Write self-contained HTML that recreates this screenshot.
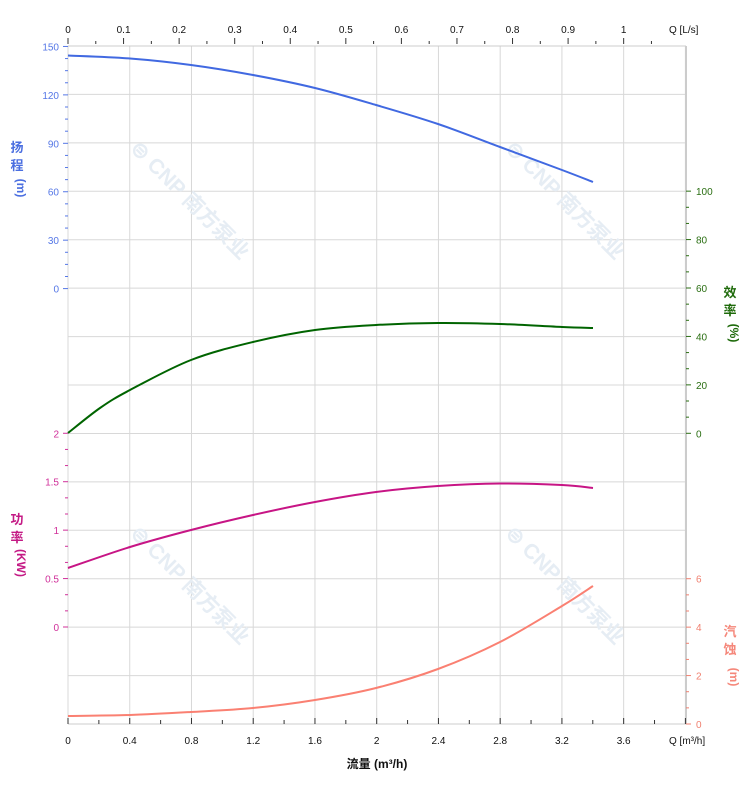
<!DOCTYPE html>
<html><head><meta charset="utf-8"><style>
html,body{margin:0;padding:0;background:#fff;width:752px;height:797px;overflow:hidden}
svg{display:block}
text{font-family:"Liberation Sans","Noto Sans CJK SC",sans-serif}
</style></head><body>
<svg id="s" width="752" height="797" xmlns="http://www.w3.org/2000/svg"></svg>
<script>
const s=document.getElementById('s');let h='';
const X=q=>68+q*154.35, L=68,R=686,T=46,B=724;
for(let i=0;i<=14;i++){const y=T+i*48.43;h+=`<line x1="${L}" x2="${R}" y1="${y}" y2="${y}" stroke="#d8d8d8"/>`;}
for(let i=0;i<=10;i++){const x=X(i*0.4);h+=`<line x1="${x}" x2="${x}" y1="${T}" y2="${B}" stroke="#d8d8d8"/>`;}
[[185,205],[560,205],[185,590],[560,590]].forEach(([x,y])=>{h+=`<text x="${x}" y="${y}" transform="rotate(45 ${x} ${y})" text-anchor="middle" font-size="21" font-weight="bold" fill="#e6edf4">⊜ CNP 南方泵业</text>`;});
h+=`<line x1="${L}" x2="${R}" y1="${T}" y2="${T}" stroke="#ccc"/><line x1="${L}" x2="${R}" y1="${B}" y2="${B}" stroke="#ccc"/><line x1="${R}" x2="${R}" y1="${T}" y2="${B}" stroke="#ccc" stroke-width="2"/>`;
for(let i=0;i<=20;i++){const x=X(i*0.2);h+=`<line x1="${x}" x2="${x}" y1="${B}" y2="${B-(i%2?4:6)}" stroke="#333"/>`;
 if(i%2==0&&i<20)h+=`<text x="${x}" y="${B+20}" text-anchor="middle" font-size="10" fill="#111">${+(i*0.2).toFixed(1)}</text>`;}
h+=`<text x="669" y="${B+20}" font-size="10" fill="#111">Q [m³/h]</text>`;
h+=`<text x="377" y="768" text-anchor="middle" font-size="12" font-weight="bold" fill="#111">流量 (m³/h)</text>`;
for(let i=0;i<=21;i++){const q=i*0.05*3.6;const x=X(q);h+=`<line x1="${x}" x2="${x}" y1="${T-2}" y2="${T-(i%2?5:8)}" stroke="#333"/>`;
 if(i%2==0&&i<=20)h+=`<text x="${x}" y="33" text-anchor="middle" font-size="10" fill="#111">${+(i*0.05).toFixed(1)}</text>`;}
h+=`<text x="669" y="33" font-size="10" fill="#111">Q [L/s]</text>`;
function lax(y0,n,lab,c,minor){for(let i=0;i<=n;i++){const y=y0-i*48.43;h+=`<line x1="${L-5}" x2="${L}" y1="${y}" y2="${y}" stroke="${c}"/><text x="${L-9}" y="${y+4}" text-anchor="end" font-size="10" fill="${c}">${lab(i)}</text>`;
 if(i<n)for(let k=1;k<minor;k++){const yy=y-k*48.43/minor;h+=`<line x1="${L-3}" x2="${L}" y1="${yy}" y2="${yy}" stroke="${c}"/>`;}}}
lax(288.6,5,i=>i*30,'#5577e6',4);
lax(627,4,i=>+(i*0.5),'#d0309a',3);
function rax(y0,n,lab,c,minor){for(let i=0;i<=n;i++){const y=y0-i*48.43;h+=`<line x1="${R}" x2="${R+5}" y1="${y}" y2="${y}" stroke="${c}"/><text x="${R+10}" y="${y+4}" font-size="10" fill="${c}">${lab(i)}</text>`;
 if(i<n)for(let k=1;k<minor;k++){const yy=y-k*48.43/minor;h+=`<line x1="${R}" x2="${R+3}" y1="${yy}" y2="${yy}" stroke="${c}"/>`;}}}
rax(433.3,5,i=>i*20,'#2a6e12',3);
rax(724,3,i=>i*2,'#f08070',3);
function vt(x,y,chs,c){chs.forEach((ch,i)=>{h+=`<text x="${x}" y="${y+i*18}" text-anchor="middle" font-size="13" font-weight="bold" fill="${c}">${ch}</text>`;});}
vt(17,152,['扬','程'],'#4a6ee0');h+=`<text x="17" y="188" transform="rotate(90 17 188)" text-anchor="middle" font-size="12" font-weight="bold" fill="#4a6ee0">(m)</text>`;
vt(17,524,['功','率'],'#c41a85');h+=`<text x="17" y="563" transform="rotate(90 17 563)" text-anchor="middle" font-size="12" font-weight="bold" fill="#c41a85">(KW)</text>`;
vt(730,297,['效','率'],'#1e6a0a');h+=`<text x="730" y="333" transform="rotate(90 730 333)" text-anchor="middle" font-size="12" font-weight="bold" fill="#1e6a0a">(%)</text>`;
vt(730,636,['汽','蚀'],'#f5877a');h+=`<text x="730" y="677" transform="rotate(90 730 677)" text-anchor="middle" font-size="12" font-weight="bold" fill="#f5877a">(m)</text>`;
function curve(pts,c){let d='M'+pts[0].join(',');for(let i=1;i<pts.length;i++){const p0=pts[i-2]||pts[i-1],p1=pts[i-1],p2=pts[i],p3=pts[i+1]||p2;
 d+=` C${p1[0]+(p2[0]-p0[0])/6},${p1[1]+(p2[1]-p0[1])/6} ${p2[0]-(p3[0]-p1[0])/6},${p2[1]-(p3[1]-p1[1])/6} ${p2[0]},${p2[1]}`;}
 h+=`<path d="${d}" fill="none" stroke="${c}" stroke-width="2"/>`;}
curve([[68,55.5],[130,58.5],[191,65],[253,75],[315,88],[376,105],[438,124],[500,147],[562,170],[593,182]],'#4169e1');
curve([[68,433],[100,408],[130,390],[191,360],[253,342],[315,330],[376,325],[438,323],[500,324],[562,327],[593,328]],'#006400');
curve([[68,568],[130,547],[191,530],[253,515],[315,502],[376,492],[438,486],[500,483.5],[562,485],[593,488]],'#c71585');
curve([[68,716],[130,715],[191,712],[253,708],[315,700],[376,688],[438,669],[500,642],[562,606],[593,586]],'#fa8072');
s.innerHTML=h;
</script>
</body></html>
